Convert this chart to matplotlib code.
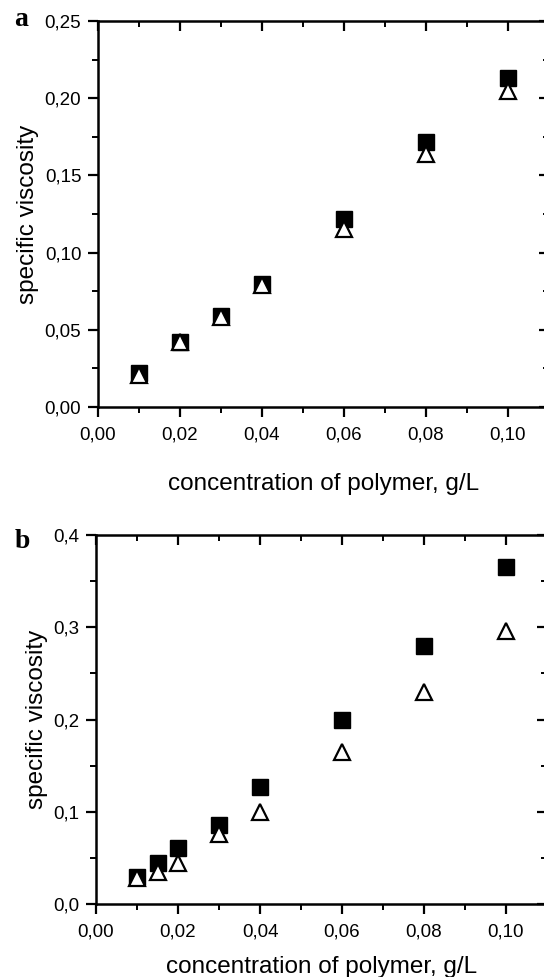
import matplotlib.pyplot as plt
from matplotlib.ticker import MultipleLocator, FuncFormatter

# datos
conc_a = [0.01, 0.02, 0.03, 0.04, 0.06, 0.08, 0.10]
cuadrados_a = [0.022, 0.042, 0.059, 0.080, 0.122, 0.172, 0.213]
triangulos_a = [0.021, 0.042, 0.058, 0.079, 0.115, 0.164, 0.205]

conc_b = [0.01, 0.015, 0.02, 0.03, 0.04, 0.06, 0.08, 0.10]
cuadrados_b = [0.029, 0.044, 0.061, 0.086, 0.127, 0.200, 0.280, 0.365]
triangulos_b = [0.028, 0.035, 0.044, 0.076, 0.100, 0.165, 0.230, 0.296]

plt.rcParams['font.family'] = ['Liberation Sans', 'DejaVu Sans']

fig = plt.figure(figsize=(5.44, 9.77), dpi=100)
ax_a = fig.add_axes([0.180, 0.5834, 0.829, 0.395])
ax_b = fig.add_axes([0.1765, 0.0747, 0.829, 0.3777])


def coma(decimales):
    return FuncFormatter(lambda v, p: f"{v:.{decimales}f}".replace('.', ','))


def preparar(ax, conc, cuad, tri, ymax, ypaso, ydec, labelpad):
    ax.plot(conc, cuad, 's', color='black', markersize=11, zorder=3, clip_on=False)
    ax.plot(conc, tri, '^', markerfacecolor='white', markeredgecolor='black',
            markersize=11, markeredgewidth=1.6, zorder=4, clip_on=False)
    ax.set_xlim(0, 0.11)
    ax.set_ylim(0, ymax)
    ax.xaxis.set_major_locator(MultipleLocator(0.02))
    ax.xaxis.set_minor_locator(MultipleLocator(0.01))
    ax.yaxis.set_major_locator(MultipleLocator(ypaso))
    ax.yaxis.set_minor_locator(MultipleLocator(ypaso / 2))
    ax.xaxis.set_major_formatter(coma(2))
    ax.yaxis.set_major_formatter(coma(ydec))
    for s in ax.spines.values():
        s.set_linewidth(1.8)
    ax.tick_params(which='major', direction='out', length=7, width=1.6,
                   labelsize=13.5, pad=5)
    ax.tick_params(axis='x', which='major', pad=7)
    ax.tick_params(which='minor', direction='out', length=4, width=1.4)
    ax.tick_params(which='both', top=True, right=True)
    ax.set_xlabel('concentration of polymer, g/L', fontsize=17.5, labelpad=labelpad)
    ax.set_ylabel('specific viscosity', fontsize=17.5, labelpad=4)
    # ticks de arriba y derecha hacia dentro
    for t in ax.xaxis.get_major_ticks() + ax.xaxis.get_minor_ticks():
        t.tick2line.set_marker(3)
    for t in ax.yaxis.get_major_ticks() + ax.yaxis.get_minor_ticks():
        t.tick2line.set_marker(0)


preparar(ax_a, conc_a, cuadrados_a, triangulos_a, 0.25, 0.05, 2, 21)
preparar(ax_b, conc_b, cuadrados_b, triangulos_b, 0.4, 0.1, 1, 11)

fig.text(21 / 544, 1 - 20 / 977, 'a', family=['Liberation Serif', 'DejaVu Serif'],
         fontweight='bold', fontsize=20, ha='center', va='center')
fig.text(22 / 544, 1 - 541 / 977, 'b', family=['Liberation Serif', 'DejaVu Serif'],
         fontweight='bold', fontsize=20, ha='center', va='center')

fig.savefig('out.png', dpi=100)
